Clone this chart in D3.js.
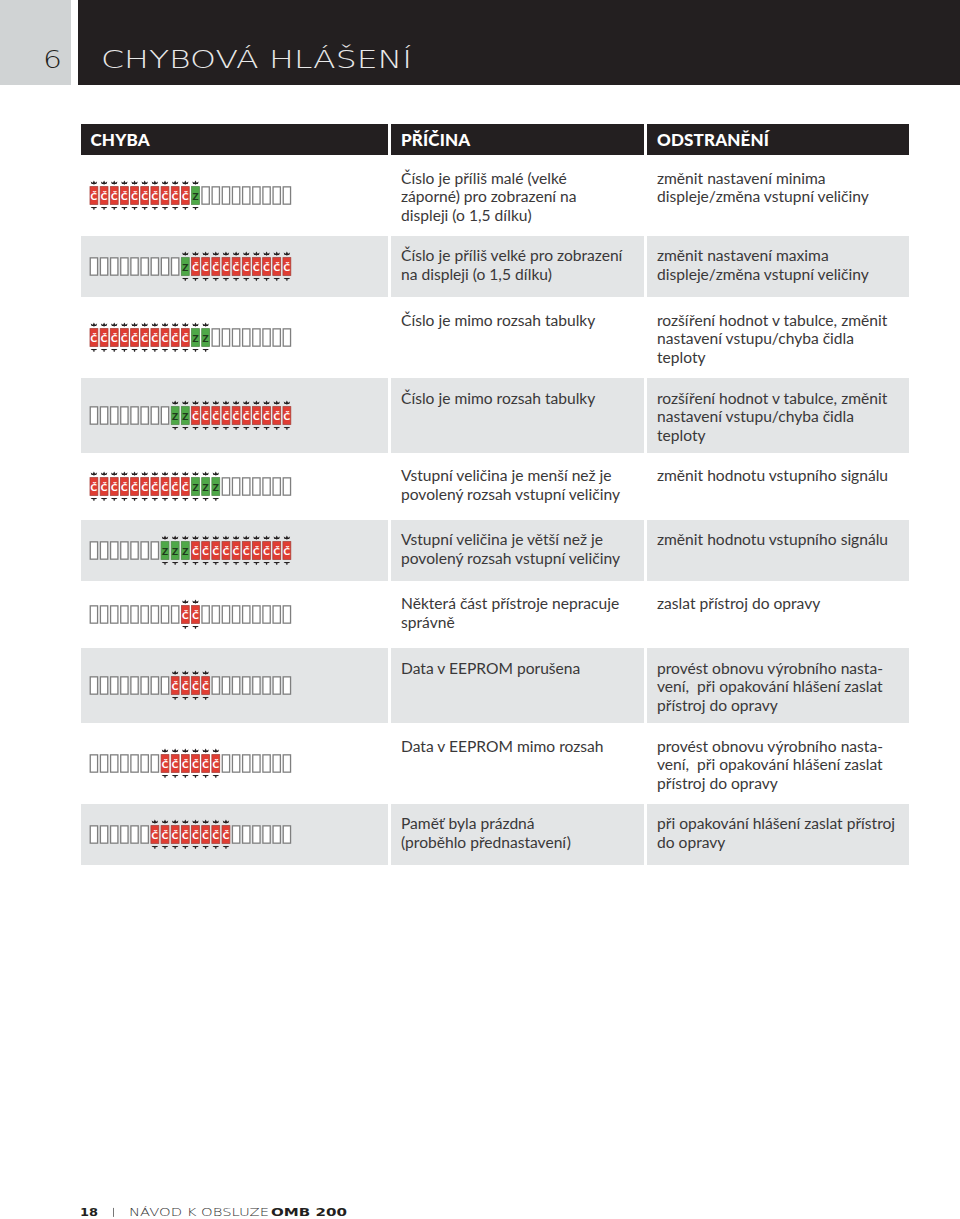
<!DOCTYPE html>
<html><head><meta charset="utf-8">
<script src="https://cdn.jsdelivr.net/npm/d3@7"></script>
<style>html,body{margin:0;padding:0;background:#fff}svg{display:block}</style>
</head><body><div id="c"></div>
<script>
const headers = ["CHYBA","PŘÍČINA","ODSTRANĚNÍ"];
const causes = [
 ["Číslo je příliš malé (velké","záporné) pro zobrazení na","displeji (o 1,5 dílku)"],
 ["Číslo je příliš velké pro zobrazení","na displeji (o 1,5 dílku)"],
 ["Číslo je mimo rozsah tabulky"],
 ["Číslo je mimo rozsah tabulky"],
 ["Vstupní veličina je menší než je","povolený rozsah vstupní veličiny"],
 ["Vstupní veličina je větší než je","povolený rozsah vstupní veličiny"],
 ["Některá část přístroje nepracuje","správně"],
 ["Data v EEPROM porušena"],
 ["Data v EEPROM mimo rozsah"],
 ["Paměť byla prázdná","(proběhlo přednastavení)"]
];
const fixes = [
 ["změnit nastavení minima","displeje/změna vstupní veličiny"],
 ["změnit nastavení maxima","displeje/změna vstupní veličiny"],
 ["rozšíření hodnot v tabulce, změnit","nastavení vstupu/chyba čidla","teploty"],
 ["rozšíření hodnot v tabulce, změnit","nastavení vstupu/chyba čidla","teploty"],
 ["změnit hodnotu vstupního signálu"],
 ["změnit hodnotu vstupního signálu"],
 ["zaslat přístroj do opravy"],
 ["provést obnovu výrobního nasta-","vení,  při opakování hlášení zaslat","přístroj do opravy"],
 ["provést obnovu výrobního nasta-","vení,  při opakování hlášení zaslat","přístroj do opravy"],
 ["při opakování hlášení zaslat přístroj","do opravy"]
];
// LED bargraph states, 20 segments: . off, C red, Z green
const bars = [
 "CCCCCCCCCCZ.........",
 ".........ZCCCCCCCCCC",
 "CCCCCCCCCCZZ........",
 "........ZZCCCCCCCCCC",
 "CCCCCCCCCCZZZ.......",
 ".......ZZZCCCCCCCCCC",
 ".........CC.........",
 "........CCCC........",
 ".......CCCCCC.......",
 "......CCCCCCCC......"
];
const rowLines = [3,2,3,3,2,2,2,3,3,2];
const chartTitle = "CHYBOVÁ HLÁŠENÍ", chapter = "6", pageNo = "18", footerText = "NÁVOD K OBSLUZE", footerBold = "OMB 200";

const W=960,H=1219;
const svg=d3.select("#c").append("svg").attr("width",W).attr("height",H).attr("viewBox",`0 0 ${W} ${H}`);
const FONT="Lato, 'Noto Sans', sans-serif", WIDE="'DejaVu Sans', sans-serif";
const INK="#231f20", GRAY="#e3e5e6", TEXT="#3a3839";

// banner
svg.append("rect").attr("width",71).attr("height",85).attr("fill","#d0d3d4");
svg.append("rect").attr("x",78).attr("width",882).attr("height",85).attr("fill",INK);
svg.append("text").attr("x",43).attr("y",68).attr("font-family",WIDE).attr("font-size",25).attr("font-weight",200)
  .attr("textLength",19).attr("lengthAdjust","spacingAndGlyphs").attr("fill",INK).text(chapter);
svg.append("text").attr("x",101).attr("y",68).attr("font-family",WIDE).attr("font-size",25).attr("font-weight",200)
  .attr("textLength",311).attr("lengthAdjust","spacingAndGlyphs").attr("fill","#e8e8e8").text(chartTitle);

// columns
const cols=[{x:81,w:307},{x:391,w:253},{x:647,w:262}];
const hdr=svg.append("g");
cols.forEach((c,i)=>{
  hdr.append("rect").attr("x",c.x).attr("y",124).attr("width",c.w).attr("height",31).attr("fill",INK);
  hdr.append("text").attr("x",c.x+(i?10:9.5)).attr("y",145.5).attr("font-family",FONT).attr("font-weight",900)
    .attr("font-size",17).attr("letter-spacing",.15).attr("fill","#fff").text(headers[i]);
});

// rows: height follows line count
const rowH=n=>n===3?75:61, gap=3;
let rowTop=158;
const rows=rowLines.map((n,i)=>{const r={i,top:rowTop,h:rowH(n)};rowTop+=r.h+gap;return r;});

const segX=d3.scaleBand().domain(d3.range(20)).range([89.6,291.2]).paddingInner(.15).paddingOuter(0);
const segColor={C:"#e03d33",Z:"#4fa848"};
const segEdge={C:"#a8403a",Z:"#4f8a48",".":"#7f7f7f"};
const crown="M-3.2,-2.2 L-1.2,-.9 L0,-3 L1.2,-.9 L3.2,-2.2 L2.4,.3 L.6,.3 L.6,.9 L-.6,.9 L-.6,.3 L-2.4,.3 Z";
const crownDown="M-3.3,-.9 L3.3,-.9 L2.2,.3 L.6,.5 L.6,1.9 L-.6,1.9 L-.6,.5 L-2.2,.3 Z";

const g=svg.selectAll("g.row").data(rows).join("g").attr("class","row");
g.filter(d=>d.i%2===1).each(function(d){
  cols.forEach(c=>d3.select(this).append("rect").attr("x",c.x).attr("y",d.top).attr("width",c.w).attr("height",d.h).attr("fill",GRAY));
});
function lines(sel,arr,x){
  sel.each(function(d){
    const yy=d.top+(d.h===75?25.5:25);
    d3.select(this).selectAll(null).data(arr[d.i]).join("text")
      .attr("x",x).attr("y",(t,j)=>yy+j*18.7).attr("font-family",FONT).attr("font-size",15.6)
      .attr("fill",TEXT).style("white-space","pre").text(t=>t);
  });
}
lines(g,causes,401); lines(g,fixes,657);
g.each(function(d){
  const cy=d.top+d.h/2, hh=9.3, bw=segX.bandwidth();
  const sw=s=>s.s==="."?1.3:.8;
  const seg=d3.select(this).selectAll("g.s").data(bars[d.i].split("").map((s,k)=>({s,k}))).join("g").attr("class","s")
    .attr("transform",s=>`translate(${segX(s.k)},${cy})`);
  seg.append("rect").attr("x",s=>sw(s)/2).attr("y",s=>-hh+sw(s)/2).attr("width",s=>bw-sw(s)).attr("height",s=>2*hh-sw(s))
    .attr("fill",s=>s.s==="."?"#fff":segColor[s.s]).attr("stroke",s=>segEdge[s.s]).attr("stroke-width",sw);
  const on=seg.filter(s=>s.s!==".");
  const mid=bw/2;
  on.append("text").attr("x",mid).attr("y",4.5).attr("text-anchor","middle").attr("font-family",FONT).attr("font-weight",900)
    .attr("font-size",10).attr("fill",s=>s.s==="C"?"#fff":"#1f3a1c").text(s=>s.s==="C"?"Č":"Z");
  on.append("path").attr("d",crown).attr("transform",`translate(${mid},${-hh-2.6})`).attr("fill",INK);
  on.append("path").attr("d",crownDown).attr("transform",`translate(${mid},${hh+3})`).attr("fill",INK);
});

// footer
const fy=1216.4;
svg.append("text").attr("x",80).attr("y",fy).attr("font-family",WIDE).attr("font-weight",700).attr("font-size",11)
  .attr("textLength",18).attr("lengthAdjust","spacingAndGlyphs").attr("fill",INK).text(pageNo);
svg.append("rect").attr("x",113).attr("y",fy-8.5).attr("width",.8).attr("height",9).attr("fill","#555");
svg.append("text").attr("x",129).attr("y",fy).attr("font-family",WIDE).attr("font-weight",200).attr("font-size",11)
  .attr("textLength",140).attr("lengthAdjust","spacingAndGlyphs").attr("fill","#333").text(footerText);
svg.append("text").attr("x",271).attr("y",fy).attr("font-family",WIDE).attr("font-weight",700).attr("font-size",11)
  .attr("textLength",76).attr("lengthAdjust","spacingAndGlyphs").attr("fill",INK).text(footerBold);
</script></body></html>
